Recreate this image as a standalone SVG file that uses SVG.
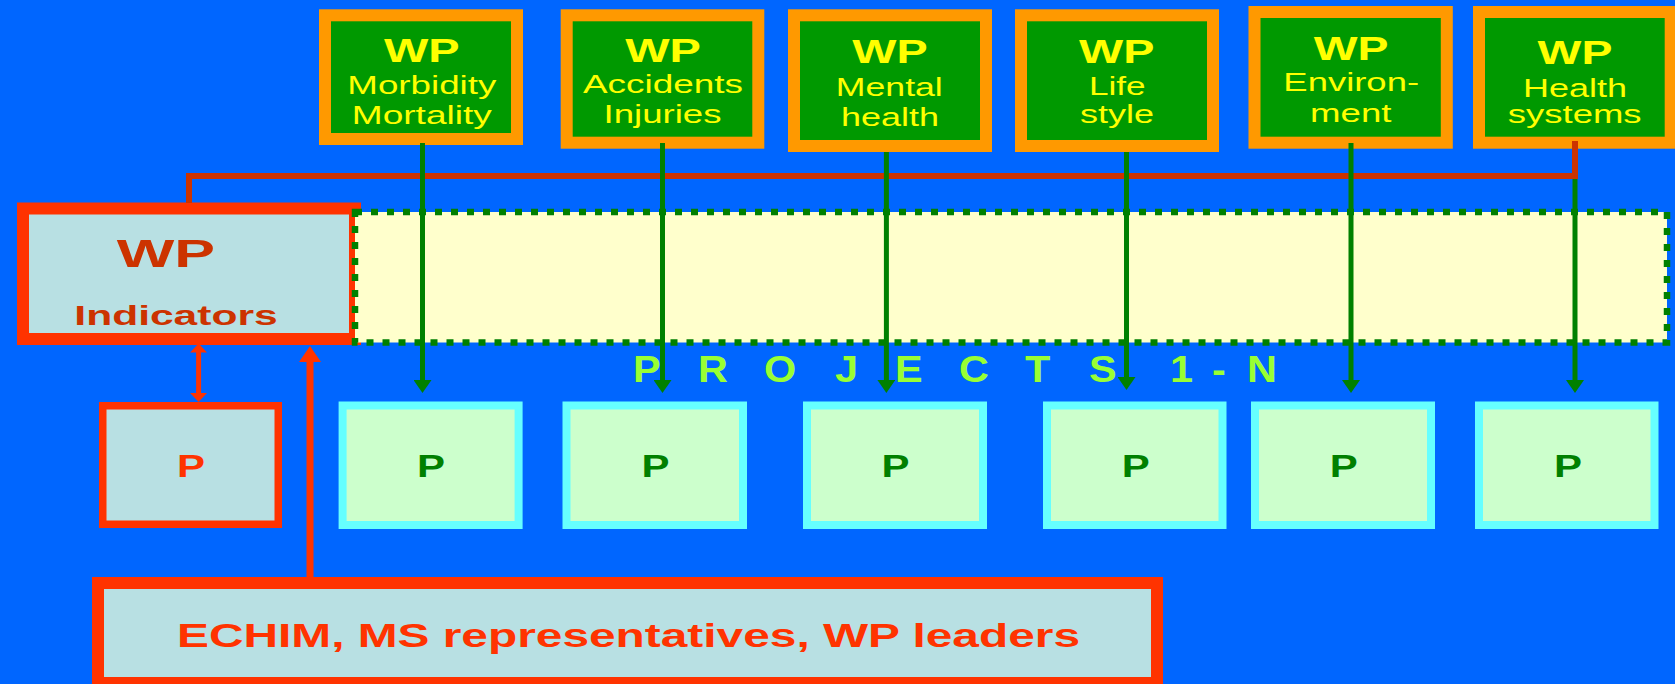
<svg xmlns="http://www.w3.org/2000/svg" width="1675" height="684" viewBox="0 0 1675 684">
<style>
text{font-family:"Liberation Sans",Arial,sans-serif;text-anchor:middle}
.wpbox{fill:#009900;stroke:#FF9900;stroke-width:12}
.wpt{fill:#FFFF00;font-weight:bold;font-size:34px}
.wps{fill:#FFFF00;font-size:25.5px}
.pbox{fill:#CCFFCC;stroke:#66FFFF;stroke-width:8}
.pt{fill:#008000;font-weight:bold;font-size:32px}
.rbox{fill:#B8E0E3;stroke:#FF3300}
.garrow{stroke:#008000;stroke-width:5;fill:none}
.proj{fill:#99FF33;font-weight:bold;font-size:37px;text-anchor:start}
</style>
<defs>
<marker id="gh" markerUnits="userSpaceOnUse" markerWidth="13" markerHeight="18" viewBox="0 0 13 18" refX="4" refY="9" orient="auto"><path d="M0,0 L13,9 L0,18 z" fill="#008000"/></marker>
<marker id="rs" markerUnits="userSpaceOnUse" markerWidth="9" markerHeight="17" viewBox="0 0 9 17" refX="3" refY="8.5" orient="auto-start-reverse"><path d="M0,0 L9,8.5 L0,17 z" fill="#FF3300"/></marker>
<marker id="rb" markerUnits="userSpaceOnUse" markerWidth="16" markerHeight="22" viewBox="0 0 16 22" refX="5" refY="11" orient="auto"><path d="M0,0 L16,11 L0,22 z" fill="#FF3300"/></marker>
</defs>
<rect x="0" y="0" width="1675" height="684" fill="#0066FF"/>

<g id="wp-morbidity">
<rect class="wpbox" x="325" y="15.3" width="192" height="123.7"/>
<text class="wpt" x="421.8" y="62.3" textLength="75.7" lengthAdjust="spacingAndGlyphs">WP</text>
<text class="wps" x="421.8" y="94.3" textLength="149" lengthAdjust="spacingAndGlyphs">Morbidity</text>
<text class="wps" x="421.8" y="124" textLength="140" lengthAdjust="spacingAndGlyphs">Mortality</text>
</g>
<g id="wp-accidents">
<rect class="wpbox" x="566.7" y="15.3" width="191.6" height="127.4"/>
<text class="wpt" x="663" y="61.7" textLength="75.7" lengthAdjust="spacingAndGlyphs">WP</text>
<text class="wps" x="663" y="93.3" textLength="160" lengthAdjust="spacingAndGlyphs">Accidents</text>
<text class="wps" x="662.5" y="123.3" textLength="118" lengthAdjust="spacingAndGlyphs">Injuries</text>
</g>
<g id="wp-mental">
<rect class="wpbox" x="794" y="15.3" width="192" height="130.7"/>
<text class="wpt" x="890" y="62.7" textLength="75.4" lengthAdjust="spacingAndGlyphs">WP</text>
<text class="wps" x="889.3" y="95.7" textLength="107" lengthAdjust="spacingAndGlyphs">Mental</text>
<text class="wps" x="890" y="125.7" textLength="98" lengthAdjust="spacingAndGlyphs">health</text>
</g>
<g id="wp-lifestyle">
<rect class="wpbox" x="1021" y="15.3" width="192" height="130.7"/>
<text class="wpt" x="1116.7" y="63.3" textLength="75.3" lengthAdjust="spacingAndGlyphs">WP</text>
<text class="wps" x="1117.3" y="95" textLength="56.7" lengthAdjust="spacingAndGlyphs">Life</text>
<text class="wps" x="1117" y="122.7" textLength="74" lengthAdjust="spacingAndGlyphs">style</text>
</g>
<g id="wp-environment">
<rect class="wpbox" x="1254.5" y="12" width="192.3" height="130.7"/>
<text class="wpt" x="1351.2" y="60" textLength="74.8" lengthAdjust="spacingAndGlyphs">WP</text>
<text class="wps" x="1351.2" y="91" textLength="135.7" lengthAdjust="spacingAndGlyphs">Environ-</text>
<text class="wps" x="1350.8" y="121.7" textLength="81.4" lengthAdjust="spacingAndGlyphs">ment</text>
</g>
<g id="wp-healthsystems">
<rect class="wpbox" x="1479" y="12" width="191.7" height="130.7"/>
<text class="wpt" x="1575" y="64.3" textLength="74.8" lengthAdjust="spacingAndGlyphs">WP</text>
<text class="wps" x="1575" y="96.7" textLength="104" lengthAdjust="spacingAndGlyphs">Health</text>
<text class="wps" x="1574.7" y="123.3" textLength="133.8" lengthAdjust="spacingAndGlyphs">systems</text>
</g>

<g id="wp-indicators">
<rect class="rbox" x="23" y="208.5" width="332" height="130.5" stroke-width="12"/>
<text x="165.8" y="267.3" font-size="39" font-weight="bold" fill="#CC3300" textLength="98.3" lengthAdjust="spacingAndGlyphs">WP</text>
<text x="176" y="325" font-size="28" font-weight="bold" fill="#CC3300" textLength="203.3" lengthAdjust="spacingAndGlyphs">Indicators</text>
</g>

<g id="projects-area">
<rect x="355" y="212" width="1312" height="130.5" fill="#FFFFCC" stroke="#008000" stroke-width="6.5" stroke-dasharray="7 9"/>
</g>

<g id="projects-label">
<text class="proj" transform="scale(1.12,1)" x="565.2 623.2 682.1 745.5 799.1 856.3 915.2 972.3 1008.9 1044.6 1082.1 1113.4" y="382">PROJECTS 1-N</text>
</g>

<g id="p-indicators">
<rect class="rbox" x="102.75" y="405.75" width="175.5" height="118.5" stroke-width="7.5"/>
<text x="191" y="477" font-size="32" font-weight="bold" fill="#FF3300" textLength="28" lengthAdjust="spacingAndGlyphs">P</text>
</g>
<g id="p1"><rect class="pbox" x="342.6" y="405.5" width="176" height="119.5"/><text class="pt" x="431" y="477" textLength="28" lengthAdjust="spacingAndGlyphs">P</text></g>
<g id="p2"><rect class="pbox" x="566.5" y="405.5" width="176.5" height="119.5"/><text class="pt" x="655.5" y="477" textLength="28" lengthAdjust="spacingAndGlyphs">P</text></g>
<g id="p3"><rect class="pbox" x="807" y="405.5" width="176" height="119.5"/><text class="pt" x="895.5" y="477" textLength="28" lengthAdjust="spacingAndGlyphs">P</text></g>
<g id="p4"><rect class="pbox" x="1047" y="405.5" width="175.5" height="119.5"/><text class="pt" x="1135.7" y="477" textLength="28" lengthAdjust="spacingAndGlyphs">P</text></g>
<g id="p5"><rect class="pbox" x="1255" y="405.5" width="176" height="119.5"/><text class="pt" x="1343.8" y="477" textLength="28" lengthAdjust="spacingAndGlyphs">P</text></g>
<g id="p6"><rect class="pbox" x="1479" y="405.5" width="175.5" height="119.5"/><text class="pt" x="1568" y="477" textLength="28" lengthAdjust="spacingAndGlyphs">P</text></g>

<g id="echim">
<rect class="rbox" x="98" y="583" width="1059" height="100" stroke-width="12"/>
<text x="628.5" y="646.5" font-size="33" font-weight="bold" fill="#FF3300" textLength="903" lengthAdjust="spacingAndGlyphs">ECHIM, MS representatives, WP leaders</text>
</g>

<g id="connectors">
<path d="M189,203 V176 H1575 V141" fill="none" stroke="#CC3300" stroke-width="6"/>
<path class="garrow" d="M422.5,143 V384" marker-end="url(#gh)"/>
<path class="garrow" d="M662.5,143 V384" marker-end="url(#gh)"/>
<path class="garrow" d="M886.4,152 V384" marker-end="url(#gh)"/>
<path class="garrow" d="M1126.5,152 V381" marker-end="url(#gh)"/>
<path class="garrow" d="M1351,143 V384" marker-end="url(#gh)"/>
<path class="garrow" d="M1575,179 V384" marker-end="url(#gh)"/>
<path d="M198.6,349.5 V396" stroke="#FF3300" stroke-width="5" fill="none" marker-start="url(#rs)" marker-end="url(#rs)"/>
<path d="M310,577 V357" stroke="#FF3300" stroke-width="7" fill="none" marker-end="url(#rb)"/>
</g>
</svg>
